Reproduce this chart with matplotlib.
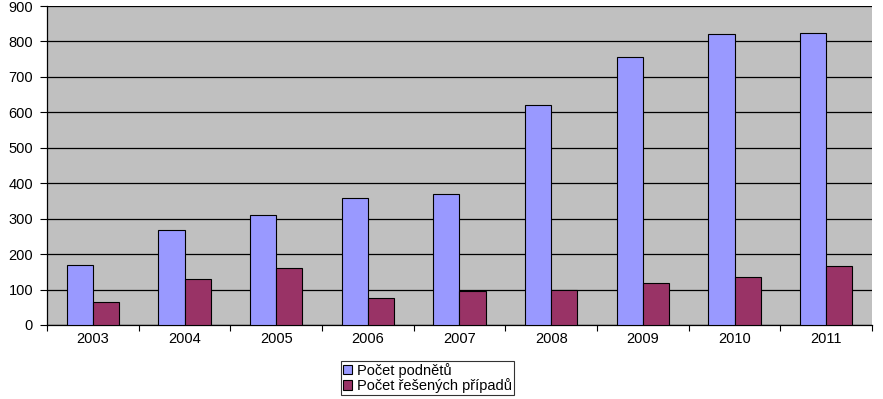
import matplotlib
matplotlib.use("Agg")
import matplotlib.pyplot as plt
import numpy as np

# data
years = ["2003", "2004", "2005", "2006", "2007", "2008", "2009", "2010", "2011"]
podnety = [168, 268, 310, 358, 370, 620, 756, 821, 823]
resene = [65, 129, 160, 76, 95, 99, 118, 135, 167]
series_names = ["Počet podnětů", "Počet řešených případů"]

plt.rcParams['font.family'] = ['Liberation Sans', 'DejaVu Sans']

fig = plt.figure(figsize=(8.83, 3.99), dpi=100)
ax = fig.add_axes([47 / 883, 1 - 325 / 399, (872 - 47) / 883, (325 - 6) / 399])
ax.set_facecolor("#C0C0C0")

x = np.arange(len(years))
w = 0.285
ax.bar(x - w / 2, podnety, w, color="#9999FF", edgecolor="black", linewidth=0.8,
       label=series_names[0], zorder=3)
ax.bar(x + w / 2, resene, w, color="#993366", edgecolor="black", linewidth=0.8,
       label=series_names[1], zorder=3)

ax.set_ylim(0, 900)
ax.set_xlim(-0.5, len(years) - 0.5)
ax.set_yticks(np.arange(0, 901, 100))
ax.yaxis.grid(True, color="black", linewidth=0.9, zorder=1)
ax.set_axisbelow(True)

# category labels centred, tick marks between categories
ax.set_xticks(x)
ax.set_xticklabels(years, fontsize=10.5)
ax.set_xticks(np.arange(-0.5, len(years), 1), minor=True)
ax.tick_params(axis="x", which="major", length=0, pad=5)
ax.tick_params(axis="x", which="minor", length=4, width=0.8, direction="out")
ax.tick_params(axis="y", labelsize=10.5, length=5, width=0.8, pad=5)

for s in ["top", "right"]:
    ax.spines[s].set_visible(False)
ax.spines["left"].set_linewidth(0.9)
ax.spines["bottom"].set_linewidth(0.9)

leg = fig.legend(loc="upper left", bbox_to_anchor=(341 / 883, 1 - 361 / 399),
                 fontsize=10.5, frameon=True, fancybox=False, edgecolor="black",
                 handlelength=0.65, handleheight=0.65, handletextpad=0.35,
                 labelspacing=0.02, borderpad=0.12, borderaxespad=0)
leg.get_frame().set_linewidth(0.8)

fig.savefig("out.png", dpi=100)
